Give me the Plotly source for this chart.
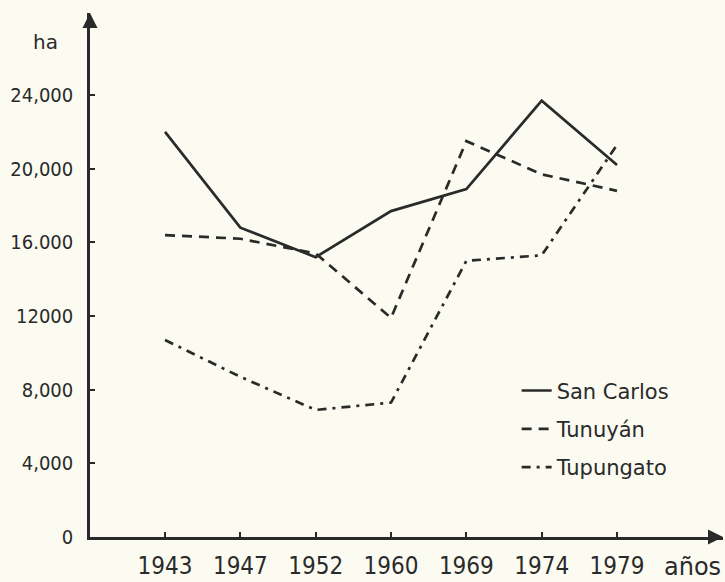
import plotly.graph_objects as go

# Planted area (ha) per census year in three departments
years = ["1943", "1947", "1952", "1960", "1969", "1974", "1979"]
san_carlos = [22000, 16800, 15200, 17700, 18900, 23700, 20200]
tunuyan = [16400, 16200, 15400, 11900, 21500, 19700, 18800]
tupungato = [10700, 8700, 6900, 7300, 15000, 15300, 21300]

y_tickvals = [0, 4000, 8000, 12000, 16000, 20000, 24000]
y_ticktext = ["0", "4,000", "8,000", "12000", "16.000", "20,000", "24,000"]

ink = "#2a2a2a"
paper = "#fbfbf1"
tick_font = "Liberation Sans Narrow, DejaVu Sans Condensed, Arial Narrow, sans-serif"
text_font = "DejaVu Sans, Lato, sans-serif"

fig = go.Figure()
fig.add_trace(go.Scatter(x=years, y=san_carlos, mode="lines", name="San Carlos",
                         legendgroup="a",
                         line=dict(color=ink, width=2.7)))
fig.add_trace(go.Scatter(x=years, y=tunuyan, mode="lines", name="Tunuyán",
                         legendgroup="b",
                         line=dict(color=ink, width=2.7, dash="10px,7px")))
fig.add_trace(go.Scatter(x=years, y=tupungato, mode="lines", name="Tupungato",
                         legendgroup="c",
                         line=dict(color=ink, width=2.7, dash="9px,6px,3px,6px")))

fig.update_layout(
    width=725, height=582,
    margin=dict(l=90, r=2, t=13, b=34),
    paper_bgcolor=paper, plot_bgcolor=paper,
    showlegend=True,
    legend=dict(x=0.674, y=0.318, xanchor="left", yanchor="top",
                bgcolor="rgba(0,0,0,0)", font=dict(family=text_font, size=21, color=ink),
                itemwidth=30, tracegroupgap=8),
    xaxis=dict(type="category", range=[-0.996, 7.407], showgrid=False, zeroline=False,
               showline=True, linecolor=ink, linewidth=2.5,
               ticks="inside", ticklen=5, tickwidth=2, tickcolor=ink,
               tickfont=dict(family=tick_font, size=24, color=ink),
               ticklabelstandoff=5),
    yaxis=dict(range=[0, 28460], showgrid=False, zeroline=False,
               showline=True, linecolor=ink, linewidth=2.5,
               ticks="inside", ticklen=5, tickwidth=2, tickcolor=ink,
               tickvals=y_tickvals, ticktext=y_ticktext,
               tickfont=dict(family=tick_font, size=20, color=ink),
               ticklabelstandoff=10),
)

# Arrowheads at the ends of both axes
fig.add_annotation(x=0, y=1, xref="paper", yref="paper", ax=0, ay=14, text="",
                   showarrow=True, arrowhead=2, arrowsize=1.2, arrowwidth=2.5,
                   arrowcolor=ink)
fig.add_annotation(x=1, y=0, xref="paper", yref="paper", ax=-14, ay=0, text="",
                   showarrow=True, arrowhead=2, arrowsize=1.2, arrowwidth=2.5,
                   arrowcolor=ink)

# Axis titles
fig.add_annotation(x=-0.071, y=0.944, xref="paper", yref="paper", text="ha",
                   xanchor="center", yanchor="middle", showarrow=False,
                   font=dict(family=text_font, size=20, color=ink))
fig.add_annotation(x=1, y=0, xref="paper", yref="paper", text="años",
                   xanchor="right", yanchor="middle", yshift=-30, showarrow=False,
                   font=dict(family=text_font, size=24, color=ink))

fig.write_html("out.html")
